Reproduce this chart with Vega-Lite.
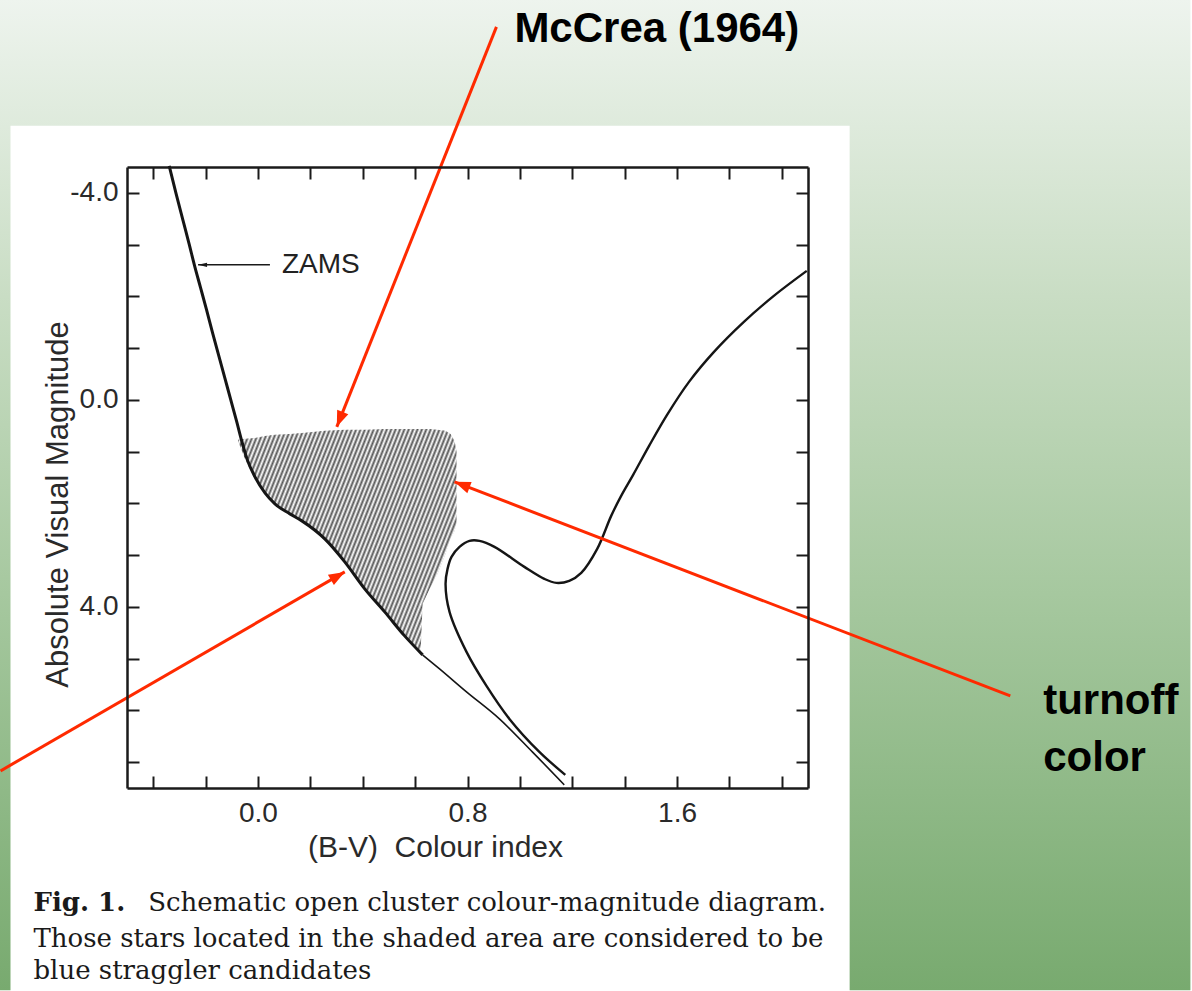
{
  "$schema": "https://vega.github.io/schema/vega-lite/v6.json",
  "width": 681,
  "height": 621,
  "autosize": {"type": "none"},
  "padding": {"left": 127, "top": 167, "right": 384, "bottom": 203},
  "background": "#ffffff",
  "config": {
    "view": {"stroke": null},
    "axis": {"grid": false}
  },
  "datasets": {
    "bg": [{"bv": -0.99, "mag": -7.75, "bv2": 3.56, "mag2": 11.41}],
    "panel": [{"bv": -0.9448, "mag": -5.2947, "bv2": 2.259, "mag2": 12}],
    "hatch": [
      {"bv": -0.0762, "mag": 0.7729, "mag2": 0.7923},
      {"bv": -0.0495, "mag": 0.7536, "mag2": 1.1401},
      {"bv": -0.0114, "mag": 0.7343, "mag2": 1.5266},
      {"bv": 0.0267, "mag": 0.6957, "mag2": 1.8164},
      {"bv": 0.0648, "mag": 0.6763, "mag2": 2.0097},
      {"bv": 0.1219, "mag": 0.657, "mag2": 2.2029},
      {"bv": 0.1676, "mag": 0.6377, "mag2": 2.3382},
      {"bv": 0.2552, "mag": 0.599, "mag2": 2.686},
      {"bv": 0.3314, "mag": 0.5797, "mag2": 3.1304},
      {"bv": 0.4076, "mag": 0.5797, "mag2": 3.6522},
      {"bv": 0.4838, "mag": 0.5604, "mag2": 4.0966},
      {"bv": 0.56, "mag": 0.5604, "mag2": 4.5604},
      {"bv": 0.621, "mag": 0.5604, "mag2": 4.8696},
      {"bv": 0.6286, "mag": 0.5604, "mag2": 3.942},
      {"bv": 0.6552, "mag": 0.5604, "mag2": 3.6522},
      {"bv": 0.6857, "mag": 0.5797, "mag2": 3.3623},
      {"bv": 0.7162, "mag": 0.599, "mag2": 2.9758},
      {"bv": 0.7352, "mag": 0.657, "mag2": 2.686},
      {"bv": 0.7505, "mag": 0.7923, "mag2": 2.5314},
      {"bv": 0.7581, "mag": 0.9855, "mag2": 2.3961}
    ],
    "zams": [
      {"i": 1, "bv": -0.339, "mag": -4.5217},
      {"i": 2, "bv": -0.3124, "mag": -3.9807},
      {"i": 3, "bv": -0.2857, "mag": -3.4589},
      {"i": 4, "bv": -0.2629, "mag": -3.0145},
      {"i": 5, "bv": -0.2419, "mag": -2.5894},
      {"i": 6, "bv": -0.219, "mag": -2.1643},
      {"i": 7, "bv": -0.1962, "mag": -1.7391},
      {"i": 8, "bv": -0.1733, "mag": -1.2947},
      {"i": 9, "bv": -0.1505, "mag": -0.8696},
      {"i": 10, "bv": -0.1276, "mag": -0.4444},
      {"i": 11, "bv": -0.1048, "mag": -0.0193},
      {"i": 12, "bv": -0.0819, "mag": 0.4058},
      {"i": 13, "bv": -0.061, "mag": 0.8116},
      {"i": 14, "bv": -0.0419, "mag": 1.1401},
      {"i": 15, "bv": -0.0114, "mag": 1.4879},
      {"i": 16, "bv": 0.0267, "mag": 1.7971},
      {"i": 17, "bv": 0.0648, "mag": 2.0097},
      {"i": 18, "bv": 0.1219, "mag": 2.2029},
      {"i": 19, "bv": 0.1676, "mag": 2.3382},
      {"i": 20, "bv": 0.2552, "mag": 2.686},
      {"i": 21, "bv": 0.3314, "mag": 3.1304},
      {"i": 22, "bv": 0.4076, "mag": 3.6522},
      {"i": 23, "bv": 0.4838, "mag": 4.0966},
      {"i": 24, "bv": 0.56, "mag": 4.5604},
      {"i": 25, "bv": 0.6286, "mag": 4.9275},
      {"i": 26, "bv": 0.6933, "mag": 5.1981},
      {"i": 27, "bv": 0.7962, "mag": 5.6425},
      {"i": 28, "bv": 0.9219, "mag": 6.1643},
      {"i": 29, "bv": 1.0476, "mag": 6.8019},
      {"i": 30, "bv": 1.1695, "mag": 7.4396}
    ],
    "iso": [
      {"i": 1, "bv": 1.1733, "mag": 7.2464},
      {"i": 2, "bv": 1.0743, "mag": 6.8019},
      {"i": 3, "bv": 0.96, "mag": 6.1643},
      {"i": 4, "bv": 0.8724, "mag": 5.5266},
      {"i": 5, "bv": 0.7962, "mag": 4.8696},
      {"i": 6, "bv": 0.7314, "mag": 4.0966},
      {"i": 7, "bv": 0.7162, "mag": 3.5556},
      {"i": 8, "bv": 0.7238, "mag": 3.2657},
      {"i": 9, "bv": 0.739, "mag": 3.0338},
      {"i": 10, "bv": 0.7695, "mag": 2.8406},
      {"i": 11, "bv": 0.8076, "mag": 2.7246},
      {"i": 12, "bv": 0.8457, "mag": 2.7246},
      {"i": 13, "bv": 0.9029, "mag": 2.8406},
      {"i": 14, "bv": 1.0171, "mag": 3.2271},
      {"i": 15, "bv": 1.0933, "mag": 3.4589},
      {"i": 16, "bv": 1.139, "mag": 3.5362},
      {"i": 17, "bv": 1.1886, "mag": 3.4976},
      {"i": 18, "bv": 1.2343, "mag": 3.343},
      {"i": 19, "bv": 1.2952, "mag": 2.8792},
      {"i": 20, "bv": 1.3486, "mag": 2.2415},
      {"i": 21, "bv": 1.3867, "mag": 1.8551},
      {"i": 22, "bv": 1.4324, "mag": 1.4493},
      {"i": 23, "bv": 1.4933, "mag": 0.8889},
      {"i": 24, "bv": 1.5619, "mag": 0.2899},
      {"i": 25, "bv": 1.6457, "mag": -0.3478},
      {"i": 26, "bv": 1.741, "mag": -0.9275},
      {"i": 27, "bv": 1.8552, "mag": -1.5072},
      {"i": 28, "bv": 1.9695, "mag": -2.0097},
      {"i": 29, "bv": 2.0952, "mag": -2.4928}
    ],
    "zamsArrow": [{"bv": 0.0457, "mag": -2.6087, "bv2": -0.2286, "mag2": -2.6087}],
    "zamsLabel": [{"bv": 0.0914, "mag": -2.6087, "label": "ZAMS"}],
    "red": [
      {"id": "mccrea", "bv": 0.9105, "mag": -7.2077, "bv2": 0.301, "mag2": 0.5217},
      {"id": "turnoff", "bv": 2.8724, "mag": 5.7198, "bv2": 0.7505, "mag2": 1.5845},
      {"id": "ms", "bv": -0.9829, "mag": 7.1691, "bv2": 0.3314, "mag2": 3.3237}
    ],
    "notes": [
      {"bv": 0.979, "mag": -6.9179, "txt": "McCrea (1964)"},
      {"bv": 2.9981, "mag": 6.0676, "txt": "turnoff"},
      {"bv": 2.9981, "mag": 7.1691, "txt": "color"}
    ],
    "captionBold": [{"bv": -0.8571, "mag": 9.8744, "txt": "Fig. 1."}],
    "caption": [
      {"bv": -0.419, "mag": 9.8744, "txt": "Schematic open cluster colour-magnitude diagram."},
      {"bv": -0.8571, "mag": 10.57, "txt": "Those stars located in the shaded area are considered to be"},
      {"bv": -0.8571, "mag": 11.1884, "txt": "blue straggler candidates"}
    ]
  },
  "encoding": {
    "x": {"field": "bv", "type": "quantitative", "scale": {"domain": [-0.5, 2.1], "nice": false, "zero": false}, "axis": null},
    "y": {"field": "mag", "type": "quantitative", "scale": {"domain": [-4.5, 7.5], "reverse": true, "nice": false, "zero": false}, "axis": null}
  },
  "resolve": {"axis": {"x": "independent", "y": "independent"}},
  "layer": [
    {
      "data": {"name": "bg"},
      "mark": {
        "type": "rect",
        "fill": {
          "gradient": "linear", "x1": 0, "y1": 0, "x2": 0, "y2": 1,
          "stops": [
            {"offset": 0, "color": "#eef4ee"},
            {"offset": 0.3, "color": "#c9ddc4"},
            {"offset": 0.6, "color": "#a6c89f"},
            {"offset": 1, "color": "#78aa6f"}
          ]
        }
      },
      "encoding": {"x2": {"field": "bv2"}, "y2": {"field": "mag2"}}
    },
    {
      "data": {"name": "panel"},
      "mark": {"type": "rect", "fill": "#ffffff"},
      "encoding": {"x2": {"field": "bv2"}, "y2": {"field": "mag2"}}
    },
    {
      "data": {"name": "hatch"},
      "mark": {
        "type": "area",
        "orient": "vertical",
        "opacity": 1,
        "fill": {
          "gradient": "linear", "x1": 0, "y1": 0, "x2": 1.207, "y2": 0.488,
          "stops": [
            {"offset": 0, "color": "#555555"}, {"offset": 0.0071, "color": "#ffffff"},
            {"offset": 0.0143, "color": "#555555"}, {"offset": 0.0214, "color": "#ffffff"},
            {"offset": 0.0286, "color": "#555555"}, {"offset": 0.0357, "color": "#ffffff"},
            {"offset": 0.0429, "color": "#555555"}, {"offset": 0.05, "color": "#ffffff"},
            {"offset": 0.0571, "color": "#555555"}, {"offset": 0.0643, "color": "#ffffff"},
            {"offset": 0.0714, "color": "#555555"}, {"offset": 0.0786, "color": "#ffffff"},
            {"offset": 0.0857, "color": "#555555"}, {"offset": 0.0929, "color": "#ffffff"},
            {"offset": 0.1, "color": "#555555"}, {"offset": 0.1071, "color": "#ffffff"},
            {"offset": 0.1143, "color": "#555555"}, {"offset": 0.1214, "color": "#ffffff"},
            {"offset": 0.1286, "color": "#555555"}, {"offset": 0.1357, "color": "#ffffff"},
            {"offset": 0.1429, "color": "#555555"}, {"offset": 0.15, "color": "#ffffff"},
            {"offset": 0.1571, "color": "#555555"}, {"offset": 0.1643, "color": "#ffffff"},
            {"offset": 0.1714, "color": "#555555"}, {"offset": 0.1786, "color": "#ffffff"},
            {"offset": 0.1857, "color": "#555555"}, {"offset": 0.1929, "color": "#ffffff"},
            {"offset": 0.2, "color": "#555555"}, {"offset": 0.2071, "color": "#ffffff"},
            {"offset": 0.2143, "color": "#555555"}, {"offset": 0.2214, "color": "#ffffff"},
            {"offset": 0.2286, "color": "#555555"}, {"offset": 0.2357, "color": "#ffffff"},
            {"offset": 0.2429, "color": "#555555"}, {"offset": 0.25, "color": "#ffffff"},
            {"offset": 0.2571, "color": "#555555"}, {"offset": 0.2643, "color": "#ffffff"},
            {"offset": 0.2714, "color": "#555555"}, {"offset": 0.2786, "color": "#ffffff"},
            {"offset": 0.2857, "color": "#555555"}, {"offset": 0.2929, "color": "#ffffff"},
            {"offset": 0.3, "color": "#555555"}, {"offset": 0.3071, "color": "#ffffff"},
            {"offset": 0.3143, "color": "#555555"}, {"offset": 0.3214, "color": "#ffffff"},
            {"offset": 0.3286, "color": "#555555"}, {"offset": 0.3357, "color": "#ffffff"},
            {"offset": 0.3429, "color": "#555555"}, {"offset": 0.35, "color": "#ffffff"},
            {"offset": 0.3571, "color": "#555555"}, {"offset": 0.3643, "color": "#ffffff"},
            {"offset": 0.3714, "color": "#555555"}, {"offset": 0.3786, "color": "#ffffff"},
            {"offset": 0.3857, "color": "#555555"}, {"offset": 0.3929, "color": "#ffffff"},
            {"offset": 0.4, "color": "#555555"}, {"offset": 0.4071, "color": "#ffffff"},
            {"offset": 0.4143, "color": "#555555"}, {"offset": 0.4214, "color": "#ffffff"},
            {"offset": 0.4286, "color": "#555555"}, {"offset": 0.4357, "color": "#ffffff"},
            {"offset": 0.4429, "color": "#555555"}, {"offset": 0.45, "color": "#ffffff"},
            {"offset": 0.4571, "color": "#555555"}, {"offset": 0.4643, "color": "#ffffff"},
            {"offset": 0.4714, "color": "#555555"}, {"offset": 0.4786, "color": "#ffffff"},
            {"offset": 0.4857, "color": "#555555"}, {"offset": 0.4929, "color": "#ffffff"},
            {"offset": 0.5, "color": "#555555"}, {"offset": 0.5071, "color": "#ffffff"},
            {"offset": 0.5143, "color": "#555555"}, {"offset": 0.5214, "color": "#ffffff"},
            {"offset": 0.5286, "color": "#555555"}, {"offset": 0.5357, "color": "#ffffff"},
            {"offset": 0.5429, "color": "#555555"}, {"offset": 0.55, "color": "#ffffff"},
            {"offset": 0.5571, "color": "#555555"}, {"offset": 0.5643, "color": "#ffffff"},
            {"offset": 0.5714, "color": "#555555"}, {"offset": 0.5786, "color": "#ffffff"},
            {"offset": 0.5857, "color": "#555555"}, {"offset": 0.5929, "color": "#ffffff"},
            {"offset": 0.6, "color": "#555555"}, {"offset": 0.6071, "color": "#ffffff"},
            {"offset": 0.6143, "color": "#555555"}, {"offset": 0.6214, "color": "#ffffff"},
            {"offset": 0.6286, "color": "#555555"}, {"offset": 0.6357, "color": "#ffffff"},
            {"offset": 0.6429, "color": "#555555"}, {"offset": 0.65, "color": "#ffffff"},
            {"offset": 0.6571, "color": "#555555"}, {"offset": 0.6643, "color": "#ffffff"},
            {"offset": 0.6714, "color": "#555555"}, {"offset": 0.6786, "color": "#ffffff"},
            {"offset": 0.6857, "color": "#555555"}, {"offset": 0.6929, "color": "#ffffff"},
            {"offset": 0.7, "color": "#555555"}, {"offset": 0.7071, "color": "#ffffff"},
            {"offset": 0.7143, "color": "#555555"}, {"offset": 0.7214, "color": "#ffffff"},
            {"offset": 0.7286, "color": "#555555"}, {"offset": 0.7357, "color": "#ffffff"},
            {"offset": 0.7429, "color": "#555555"}, {"offset": 0.75, "color": "#ffffff"},
            {"offset": 0.7571, "color": "#555555"}, {"offset": 0.7643, "color": "#ffffff"},
            {"offset": 0.7714, "color": "#555555"}, {"offset": 0.7786, "color": "#ffffff"},
            {"offset": 0.7857, "color": "#555555"}, {"offset": 0.7929, "color": "#ffffff"},
            {"offset": 0.8, "color": "#555555"}, {"offset": 0.8071, "color": "#ffffff"},
            {"offset": 0.8143, "color": "#555555"}, {"offset": 0.8214, "color": "#ffffff"},
            {"offset": 0.8286, "color": "#555555"}, {"offset": 0.8357, "color": "#ffffff"},
            {"offset": 0.8429, "color": "#555555"}, {"offset": 0.85, "color": "#ffffff"},
            {"offset": 0.8571, "color": "#555555"}, {"offset": 0.8643, "color": "#ffffff"},
            {"offset": 0.8714, "color": "#555555"}, {"offset": 0.8786, "color": "#ffffff"},
            {"offset": 0.8857, "color": "#555555"}, {"offset": 0.8929, "color": "#ffffff"},
            {"offset": 0.9, "color": "#555555"}, {"offset": 0.9071, "color": "#ffffff"},
            {"offset": 0.9143, "color": "#555555"}, {"offset": 0.9214, "color": "#ffffff"},
            {"offset": 0.9286, "color": "#555555"}, {"offset": 0.9357, "color": "#ffffff"},
            {"offset": 0.9429, "color": "#555555"}, {"offset": 0.95, "color": "#ffffff"},
            {"offset": 0.9571, "color": "#555555"}, {"offset": 0.9643, "color": "#ffffff"},
            {"offset": 0.9714, "color": "#555555"}, {"offset": 0.9786, "color": "#ffffff"},
            {"offset": 0.9857, "color": "#555555"}, {"offset": 0.9929, "color": "#ffffff"},
            {"offset": 1, "color": "#555555"}
          ]
        }
      },
      "encoding": {"y2": {"field": "mag2"}}
    },
    {
      "data": {"name": "zams"},
      "transform": [{"filter": "datum.bv <= 0.63"}],
      "mark": {"type": "line", "color": "#151515", "strokeWidth": 3, "interpolate": "monotone"},
      "encoding": {
        "order": {"field": "i", "type": "quantitative"},
        "x": {
          "field": "bv", "type": "quantitative",
          "scale": {"domain": [-0.5, 2.1], "nice": false, "zero": false},
          "axis": {
            "orient": "bottom", "zindex": 2,
            "values": [-0.4, -0.2, 0, 0.2, 0.4, 0.6, 0.8, 1, 1.2, 1.4, 1.6, 1.8, 2],
            "tickSize": -12, "tickWidth": 2, "tickColor": "#1a1a1a",
            "domainColor": "#1a1a1a", "domainWidth": 2.5,
            "labelExpr": "datum.value == 0 ? '0.0' : datum.value == 0.8 ? '0.8' : datum.value == 1.6 ? '1.6' : ''",
            "labelFont": "Liberation Sans", "labelFontSize": 28, "labelColor": "#2a2a2a",
            "labelPadding": 23, "labelOverlap": false, "labelFlush": false,
            "title": "(B-V)\u00a0\u00a0Colour index",
            "titleFont": "Liberation Sans", "titleFontSize": 30, "titleFontWeight": "normal", "titleColor": "#2a2a2a",
            "titleX": 308, "titleY": 59, "titleBaseline": "middle", "titleAlign": "center"
          }
        },
        "y": {
          "field": "mag", "type": "quantitative",
          "scale": {"domain": [-4.5, 7.5], "reverse": true, "nice": false, "zero": false},
          "axis": {
            "orient": "left", "zindex": 2,
            "values": [-4, -3, -2, -1, 0, 1, 2, 3, 4, 5, 6, 7],
            "tickSize": -12, "tickWidth": 2, "tickColor": "#1a1a1a",
            "domainColor": "#1a1a1a", "domainWidth": 2.5,
            "labelExpr": "datum.value == -4 ? '-4.0' : datum.value == 0 ? '0.0' : datum.value == 4 ? '4.0' : ''",
            "labelFont": "Liberation Sans", "labelFontSize": 28, "labelColor": "#2a2a2a",
            "labelPadding": 21, "labelOverlap": false, "labelFlush": false,
            "title": "Absolute Visual Magnitude",
            "titleFont": "Liberation Sans", "titleFontSize": 31, "titleFontWeight": "normal", "titleColor": "#2a2a2a",
            "titleX": -69, "titleY": 337, "titleAngle": 270, "titleBaseline": "middle", "titleAlign": "center"
          }
        }
      }
    },
    {
      "data": {"name": "zams"},
      "transform": [{"filter": "datum.bv >= 0.62"}],
      "mark": {"type": "line", "color": "#151515", "strokeWidth": 1.6, "interpolate": "monotone"},
      "encoding": {"order": {"field": "i", "type": "quantitative"}}
    },
    {
      "data": {"name": "iso"},
      "mark": {"type": "line", "color": "#151515", "strokeWidth": 2.4, "interpolate": "catmull-rom"},
      "encoding": {
        "order": {"field": "i", "type": "quantitative"},
        "x": {
          "field": "bv", "type": "quantitative",
          "scale": {"domain": [-0.5, 2.1], "nice": false, "zero": false},
          "axis": {
            "orient": "top", "zindex": 2,
            "values": [-0.4, -0.2, 0, 0.2, 0.4, 0.6, 0.8, 1, 1.2, 1.4, 1.6, 1.8, 2],
            "tickSize": -12, "tickWidth": 2, "tickColor": "#1a1a1a",
            "domainColor": "#1a1a1a", "domainWidth": 2.5,
            "labels": false, "title": null
          }
        },
        "y": {
          "field": "mag", "type": "quantitative",
          "scale": {"domain": [-4.5, 7.5], "reverse": true, "nice": false, "zero": false},
          "axis": {
            "orient": "right", "zindex": 2,
            "values": [-4, -3, -2, -1, 0, 1, 2, 3, 4, 5, 6, 7],
            "tickSize": -12, "tickWidth": 2, "tickColor": "#1a1a1a",
            "domainColor": "#1a1a1a", "domainWidth": 2.5,
            "labels": false, "title": null
          }
        }
      }
    },
    {
      "data": {"name": "zamsArrow"},
      "mark": {"type": "rule", "color": "#1a1a1a", "strokeWidth": 1.5},
      "encoding": {"x2": {"field": "bv2"}, "y2": {"field": "mag2"}}
    },
    {
      "data": {"name": "zamsArrow"},
      "mark": {"type": "point", "shape": "M0,0L-0.7,3L0.7,3Z", "size": 36, "angle": 270, "filled": true, "opacity": 1, "color": "#1a1a1a"},
      "encoding": {
        "x": {"field": "bv2", "type": "quantitative", "scale": {"domain": [-0.5, 2.1], "nice": false, "zero": false}, "axis": null},
        "y": {"field": "mag2", "type": "quantitative", "scale": {"domain": [-4.5, 7.5], "reverse": true, "nice": false, "zero": false}, "axis": null}
      }
    },
    {
      "data": {"name": "zamsLabel"},
      "mark": {"type": "text", "font": "Liberation Sans", "fontSize": 28, "align": "left", "baseline": "middle", "color": "#222222"},
      "encoding": {"text": {"field": "label"}}
    },
    {
      "data": {"name": "red"},
      "mark": {"type": "rule", "color": "#ff2a00", "strokeWidth": 3},
      "encoding": {"x2": {"field": "bv2"}, "y2": {"field": "mag2"}}
    },
    {
      "data": {"name": "red"},
      "transform": [{"filter": "datum.id == 'mccrea'"}],
      "mark": {"type": "point", "shape": "M0,0L-0.6,1.6L0.6,1.6Z", "size": 400, "angle": 201.8, "filled": true, "opacity": 1, "color": "#ff2a00"},
      "encoding": {
        "x": {"field": "bv2", "type": "quantitative", "scale": {"domain": [-0.5, 2.1], "nice": false, "zero": false}, "axis": null},
        "y": {"field": "mag2", "type": "quantitative", "scale": {"domain": [-4.5, 7.5], "reverse": true, "nice": false, "zero": false}, "axis": null}
      }
    },
    {
      "data": {"name": "red"},
      "transform": [{"filter": "datum.id == 'turnoff'"}],
      "mark": {"type": "point", "shape": "M0,0L-0.6,1.6L0.6,1.6Z", "size": 400, "angle": 291, "filled": true, "opacity": 1, "color": "#ff2a00"},
      "encoding": {
        "x": {"field": "bv2", "type": "quantitative", "scale": {"domain": [-0.5, 2.1], "nice": false, "zero": false}, "axis": null},
        "y": {"field": "mag2", "type": "quantitative", "scale": {"domain": [-4.5, 7.5], "reverse": true, "nice": false, "zero": false}, "axis": null}
      }
    },
    {
      "data": {"name": "red"},
      "transform": [{"filter": "datum.id == 'ms'"}],
      "mark": {"type": "point", "shape": "M0,0L-0.6,1.6L0.6,1.6Z", "size": 400, "angle": 60, "filled": true, "opacity": 1, "color": "#ff2a00"},
      "encoding": {
        "x": {"field": "bv2", "type": "quantitative", "scale": {"domain": [-0.5, 2.1], "nice": false, "zero": false}, "axis": null},
        "y": {"field": "mag2", "type": "quantitative", "scale": {"domain": [-4.5, 7.5], "reverse": true, "nice": false, "zero": false}, "axis": null}
      }
    },
    {
      "data": {"name": "notes"},
      "mark": {"type": "text", "font": "Liberation Sans", "fontSize": 42, "fontWeight": "bold", "align": "left", "baseline": "alphabetic", "color": "#000000"},
      "encoding": {"text": {"field": "txt"}}
    },
    {
      "data": {"name": "captionBold"},
      "mark": {"type": "text", "font": "DejaVu Serif", "fontSize": 26, "fontWeight": "bold", "align": "left", "baseline": "alphabetic", "color": "#1a1a1a"},
      "encoding": {"text": {"field": "txt"}}
    },
    {
      "data": {"name": "caption"},
      "mark": {"type": "text", "font": "DejaVu Serif", "fontSize": 26, "align": "left", "baseline": "alphabetic", "color": "#1a1a1a"},
      "encoding": {"text": {"field": "txt"}}
    }
  ]
}
